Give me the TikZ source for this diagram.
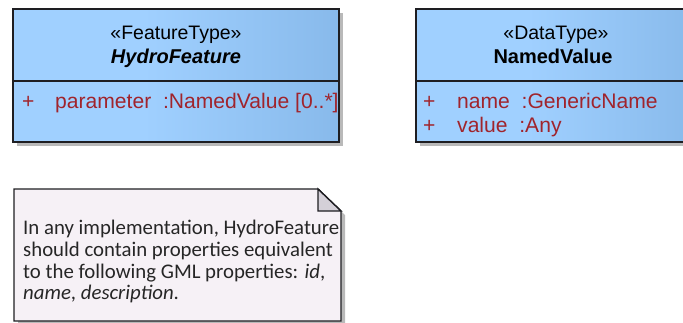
\documentclass[tikz,border=0pt]{standalone}
\usepackage{fontspec}
\setmainfont{Liberation Sans}
\newfontfamily\notefont{Carlito}
\definecolor{boxlight}{RGB}{160,208,255}
\definecolor{boxdark}{RGB}{116,167,218}
\definecolor{edge}{RGB}{30,30,34}
\definecolor{attr}{RGB}{160,36,44}
\definecolor{notefill}{RGB}{246,241,246}
\definecolor{foldfill}{RGB}{212,208,216}
\definecolor{shadowgrey}{RGB}{185,185,185}
\pgfdeclarehorizontalshading{classgrad}{100bp}{color(0bp)=(boxlight); color(45bp)=(boxlight); color(100bp)=(boxdark)}
\tikzset{
  classbox/.style={draw=edge, line width=1.4pt, shading=classgrad},
  shadowbox/.style={fill=shadowgrey, draw=none},
  divider/.style={draw=edge, line width=1.4pt},
  stereo/.style={inner sep=0, anchor=base, font=\fontsize{19.5}{22}\selectfont},
  cname/.style={inner sep=0, anchor=base, font=\fontsize{20}{22}\selectfont\bfseries},
  attrtext/.style={inner sep=0, anchor=base west, text=attr, font=\fontsize{21.1}{22}\selectfont},
  notetext/.style={inner sep=0, anchor=north west, align=left, text=black!85,
    font=\notefont\fontsize{20.8}{21.7}\selectfont},
  notebox/.style={draw=edge, line width=1.4pt, fill=notefill},
  fold/.style={draw=edge, line width=1.4pt, fill=foldfill, line join=miter}
}
\begin{document}
\begin{tikzpicture}[x=1pt, y=-1pt]
\useasboundingbox (0,0) rectangle (683,322);
\clip (0,0) rectangle (683,322);

% HydroFeature class
\fill[shadowbox] (17,13) rectangle (343,146);
\path[classbox] (13,9) rectangle (339,142);
\draw[divider] (13,81) -- (339,81);
\node[stereo] (hfst) at (176,39) {«FeatureType»};
\node[cname] (hfname) at (176,63) {\itshape HydroFeature};
\node[attrtext] (hfplus) at (22,108) {+};
\node[attrtext] (hfattr) at (55,108) {parameter\ \ :NamedValue [0..*]};

% NamedValue data type
\fill[shadowbox] (420,13) rectangle (700,146);
\path[classbox] (416,9) rectangle (696,142);
\draw[divider] (416,81) -- (696,81);
\node[stereo] (nvst) at (556,39) {«DataType»};
\node[cname] (nvname) at (553,63) {NamedValue};
\node[attrtext] (nvplus1) at (423,108) {+};
\node[attrtext] (nvattr1) at (457,108) {name\ \ :GenericName};
\node[attrtext] (nvplus2) at (423,132) {+};
\node[attrtext] (nvattr2) at (457,132) {value\ \ :Any};

% Note with folded corner
\fill[shadowbox] (18,193) -- (322,193) -- (345,215) -- (345,330) -- (18,330) -- cycle;
\path[notebox] (14,189) -- (318,189) -- (341,211) -- (341,321) -- (14,321) -- cycle;
\path[fold] (318,189) -- (318,211) -- (341,211) -- cycle;
\node[notetext] (notebody) at (23,220) {In any implementation, HydroFeature\\should contain properties equivalent\\to the following GML properties: \textit{id},\\\textit{name}, \textit{description}.};
\end{tikzpicture}
\end{document}
